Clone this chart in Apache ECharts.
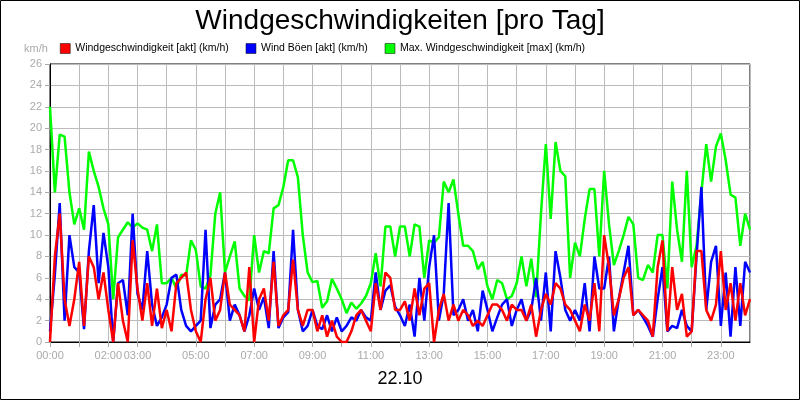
<!DOCTYPE html>
<html><head><meta charset="utf-8">
<script src="https://cdn.jsdelivr.net/npm/echarts@6/dist/echarts.min.js"></script>
<style>html,body{margin:0;padding:0;background:#fff}#c{width:800px;height:400px}</style>
</head><body><div id="c"></div>
<script>
// values every 10 minutes, 00:00 .. 24:00
const windAkt = [
0,8,12,4,1.5,4, 7.5,1.5,8,7,4,6.5, 3,0,5.5,2,0,9.5, 5,2,5.5,1.5,5,1.3,
3,1,5.5,6,6.5,3, 1,0,4,6,2,3, 6.5,3.5,3,2.5,1,7, 0,4,5,2,7.5,1.5,
2.5,3,7.7,3,1.5,3, 3,1,2.5,0.5,2,0.5, 0,0,1,2.5,3,2, 1,5.5,3,6.5,6,3,
3,3.8,2,5,2.5,5, 5.5,0,3,4.5,2,3.5, 2,3,2.5,1.5,2,1.5, 2.5,3.5,3.5,3,2,3.5,
3,3,2,3.5,0.5,3, 4.5,3.5,5.5,5,3.5,3, 2,1,3.5,2,5.5,1, 10,7,2.5,4,6,7,
2.5,3,2.5,2,0.5,7, 9.5,1,7,3,4.5,0.5, 1,8.5,8.5,3,2,3.5, 8.5,3,5.5,2,5.5,2.5, 4];
const windBoeen = [
1,6.3,13,2,10,7, 6.5,1.2,8.5,12.8,5.5,10.2, 7,0,5.5,5.8,2.5,12, 4.5,3,8.5,3.5,1.5,2.3,
3.5,6,6.3,3,1.5,1, 1.5,2,10.5,1.3,3.5,4, 6.5,2,3.5,2.5,1,2.5, 5,3,4.2,1.3,8.5,1.3,
2.3,2.8,10.5,3,1,1.5, 3,1.5,1.2,2.5,1,2.3, 1,1.5,2.3,2,3,2.3, 2,6.5,3,4.8,5.3,3.3,
2.5,1.5,3.5,0.5,6,2, 7,10,2,4.5,13,2.5, 3,4,2,3,1,4.8, 3,1,2.3,3.5,4,1.5,
3,4,2,3,6,2, 6.5,1,8.5,6,3,2, 3,2,5.5,1,8,5, 5,8,1,4,6.5,9,
2.5,3,2.3,1.5,0.5,4, 7,1,1.5,1.3,3,1.5, 1,8,14.5,3,7.5,9, 1.5,6.5,0.5,7,1.5,7.5, 6.5];
const windMax = [
22,14,19.4,19.2,14,11, 12.5,10.5,17.8,16,14.5,12.5, 11,4,9.8,10.5,11.2,10.7, 11.1,10.7,10.5,8.5,11,5.5,
5.5,6,5,6.3,6.2,9.5, 8.6,5.2,5,6.2,12,14, 6.5,8,9.4,5,4.3,3.9, 10,6.5,8.5,8.3,12.5,12.8,
14.5,17,17,15.4,10,6.5, 5.6,5.7,3.2,3.8,5.9,5, 4,2.7,3.7,3.1,3.6,4.3, 5.5,8.3,5.2,10.8,10.8,8,
10.8,10.8,8,11,10.8,6, 9.5,9.3,9.8,15,14,15.2, 12,9,9,8.5,6.8,7.5, 5.2,4,5.8,5.5,4,4.3,
5.5,8,5.2,7.8,4.2,12, 18.5,11.5,18.7,16,15.5,6, 9.3,8,11.5,14.3,14.3,8, 16,11,7.2,8.5,10,11.7,
11,6,5.8,7.2,6.5,10, 10,5,15,10.5,7.5,16, 7,9,14,18.5,15,18.3, 19.5,17,13.8,13.5,9,12, 10.5];
const tickHours = [0,2,3,5,7,9,11,13,15,17,19,21,23];
const seriesNames = ['Windgeschwindigkeit [akt] (km/h)','Wind Böen [akt] (km/h)','Max. Windgeschwindigkeit [max] (km/h)'];

const toPts = a => a.map((v,i)=>[i/6,v]);
const chart = echarts.init(document.getElementById('c'));
const font = 'Liberation Sans, Arial, sans-serif';
chart.setOption({
  animation:false,
  textStyle:{fontFamily:font},
  title:{text:'Windgeschwindigkeiten [pro Tag]',left:'center',top:2,textStyle:{fontSize:28,fontWeight:'normal',color:'#000',fontFamily:font}},
  legend:{data:seriesNames,left:55,top:38,icon:'rect',itemWidth:10,itemHeight:10,itemGap:17,itemStyle:{borderColor:'#000',borderWidth:0.5},
    textStyle:{fontSize:10.5,color:'#000',fontFamily:font}},
  grid:{left:50,right:50,top:64,bottom:58,show:true,borderColor:'#000',borderWidth:1},
  graphic:[{type:'rect',shape:{x:0.5,y:0.5,width:799,height:399},style:{fill:'none',stroke:'#000',lineWidth:1}},
    {type:'text',left:24,top:43,style:{text:'km/h',fill:'#aaa',font:'11px '+font}}],
  xAxis:{type:'value',min:0,max:24,interval:1,
    name:'22.10',nameLocation:'middle',nameGap:28,nameTextStyle:{fontSize:18,color:'#000'},
    axisLine:{lineStyle:{color:'#000'}},axisTick:{lineStyle:{color:'#aaa'}},
    axisLabel:{color:'#aaa',fontSize:11,showMaxLabel:false,
      formatter:v=>tickHours.includes(v)?String(v).padStart(2,'0')+':00':''},
    splitLine:{lineStyle:{color:'#bbb'}}},
  yAxis:{type:'value',min:0,max:26,interval:2,
    axisLine:{show:true,lineStyle:{color:'#000'}},axisTick:{show:true,lineStyle:{color:'#aaa'}},
    axisLabel:{color:'#aaa',fontSize:11},splitLine:{lineStyle:{color:'#bbb'}}},
  series:[
    {name:seriesNames[2],type:'line',data:toPts(windMax),showSymbol:false,color:'#00ff00',lineStyle:{width:2.5},z:2},
    {name:seriesNames[1],type:'line',data:toPts(windBoeen),showSymbol:false,color:'#0000ff',lineStyle:{width:2.5},z:3},
    {name:seriesNames[0],type:'line',data:toPts(windAkt),showSymbol:false,color:'#ff0000',lineStyle:{width:2.5},z:4}
  ]
});
</script></body></html>
